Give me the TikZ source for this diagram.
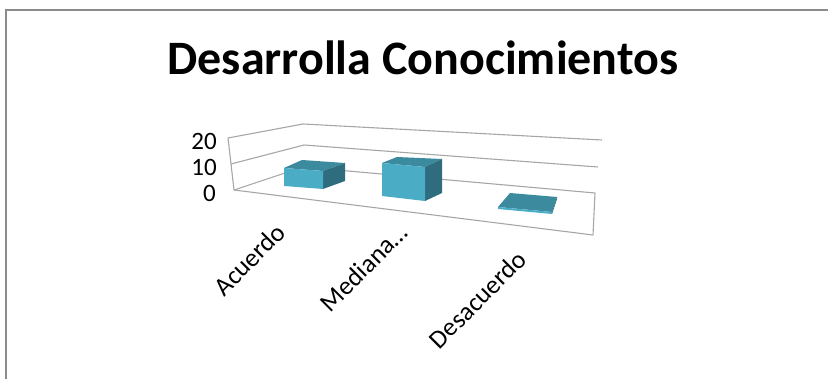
\documentclass[tikz,border=0pt]{standalone}
\usepackage{fontspec}
\setmainfont{Carlito}
\definecolor{framegray}{HTML}{8C8C8C}
\definecolor{gridgray}{HTML}{A6A6A6}
\definecolor{barfront}{HTML}{4BACC6}
\definecolor{bartop}{HTML}{3B8A9D}
\definecolor{barside}{HTML}{2F6D7E}
\tikzset{
  gridline/.style={draw=gridgray, line width=1.1pt, line join=round},
  front/.style={fill=barfront},
  topface/.style={fill=bartop},
  sideface/.style={fill=barside},
  axislabel/.style={font=\fontsize{25}{28}\selectfont, anchor=east, inner sep=0pt},
  catlabel/.style={font=\fontsize{26}{28}\selectfont, anchor=east, rotate=45, inner sep=0pt},
}
\begin{document}
\begin{tikzpicture}[x=1pt, y=-1pt]
\useasboundingbox (0,0) rectangle (828,379);
% outer frame
\draw[framegray, line width=2pt] (6,379) -- (6,10) -- (828,10);
% title
\node[font=\fontsize{48}{56}\selectfont\bfseries, inner sep=0pt] (title) at (423,58) {Desarrolla Conocimientos};
% walls and gridlines
\coordinate (lt) at (228,138);
\coordinate (lm) at (231,164);
\coordinate (lb) at (234,190);
\coordinate (bt) at (303,124);
\coordinate (bm) at (304,145);
\coordinate (bb) at (303,167);
\coordinate (rt) at (602,140);
\coordinate (rm) at (598,167);
\coordinate (rb) at (595,193);
\coordinate (fr) at (593,235);
\draw[gridline] (lt) -- (bt) -- (rt);
\draw[gridline] (lm) -- (bm) -- (rm);
\draw[gridline] (lb) -- (bb) -- (rb);
\draw[gridline] (lt) -- (lb) -- (fr) -- (rb);
% axis labels
\node[axislabel] (y20) at (217,141) {20};
\node[axislabel] (y10) at (217,167) {10};
\node[axislabel] (y0) at (216,193) {0};
% bar 1 (Acuerdo)
\fill[topface] (284,168) -- (323,171) -- (345,163) -- (302,160) -- cycle;
\fill[sideface] (323,171) -- (345,163) -- (345,181) -- (323,189) -- cycle;
\fill[front] (284,168) -- (323,171) -- (323,189) -- (284,186) -- cycle;
% bar 2 (Mediana)
\fill[topface] (382,163) -- (425,167) -- (442,159) -- (397,157) -- cycle;
\fill[sideface] (425,167) -- (442,159) -- (442,193) -- (425,201) -- cycle;
\fill[front] (382,163) -- (425,167) -- (425,201) -- (382,196) -- cycle;
% bar 3 (Desacuerdo)
\fill[topface] (498,207) -- (552,212) -- (557,197) -- (510,193) -- cycle;
\fill[sideface] (552,212) -- (557,197) -- (557,199) -- (552,214) -- cycle;
\fill[front] (498,207) -- (552,212) -- (552,214) -- (498,209) -- cycle;
% category labels
\node[catlabel] (c1) at (281,228) {Acuerdo};
\node[catlabel] (c2) at (403,228) {Mediana…};
\node[catlabel] (c3) at (522,255) {Desacuerdo};
\end{tikzpicture}
\end{document}
